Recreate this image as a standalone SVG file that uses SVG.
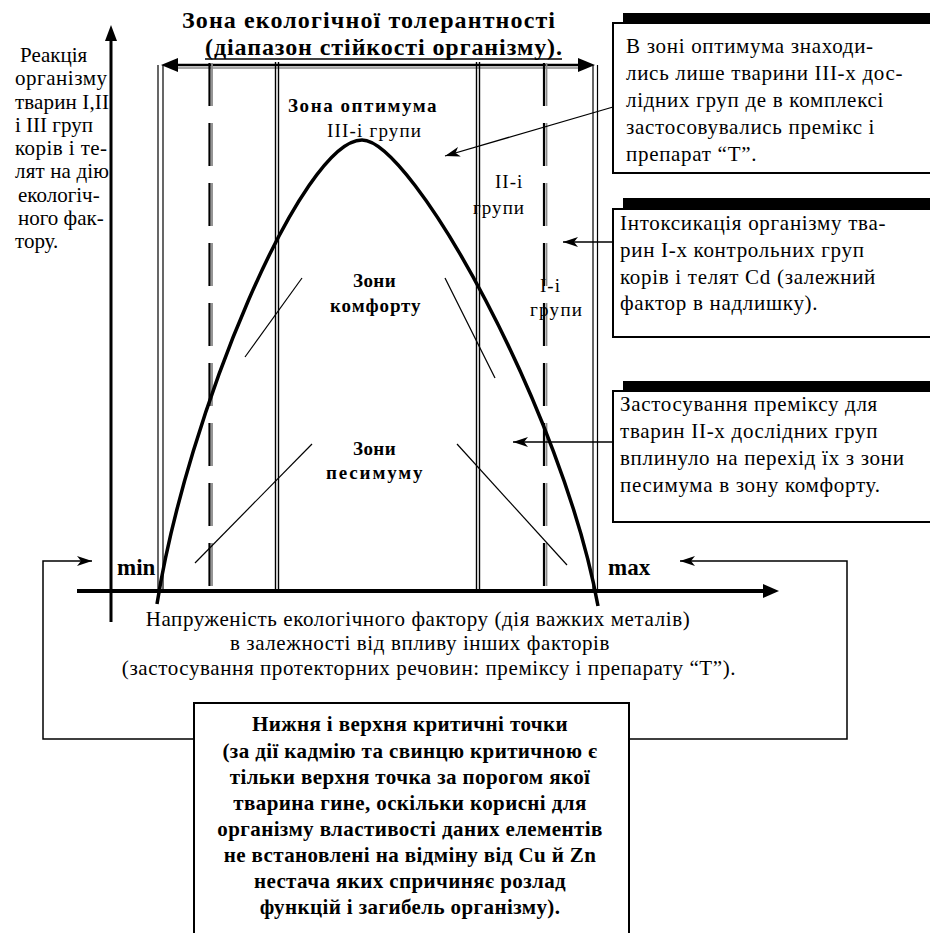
<svg xmlns="http://www.w3.org/2000/svg" width="930" height="933" viewBox="0 0 930 933">
<style>
text{font-family:"Liberation Serif","Times New Roman",serif;fill:#000}
.t{font-size:21px}
.bx{font-size:21px;letter-spacing:0.7px}
.b{font-weight:bold}
.zl{font-size:19px;font-weight:bold;letter-spacing:1.4px}
.zr{font-size:19px;letter-spacing:1px}
.ln{stroke:#000;fill:none}
.thin{stroke:#000;stroke-width:1.2;fill:none}
.grey{stroke:#8a8a8a;fill:none}
.box{fill:#fff;stroke:#000;stroke-width:2}
</style>
<defs>
<marker id="ah" markerUnits="userSpaceOnUse" markerWidth="16" markerHeight="10" refX="15" refY="5" orient="auto">
<path d="M0,0 L15,5 L0,10 L4,5 Z" fill="#000"/>
</marker>
</defs>
<rect width="930" height="933" fill="#fff"/>

<g id="title">
<text class="b" x="182" y="28" font-size="24" textLength="373" lengthAdjust="spacing">Зона екологічної толерантності</text>
<text class="b" x="205" y="55" font-size="24" textLength="357" lengthAdjust="spacing">(діапазон стійкості організму).</text>
<line class="ln" x1="205" y1="59" x2="562" y2="59" stroke-width="1.5"/>
</g>

<g id="tolerance-arrow">
<line class="ln" x1="172" y1="65" x2="584" y2="65" stroke-width="2.5"/>
<line class="grey" x1="172" y1="68" x2="584" y2="68" stroke-width="1.5"/>
<polygon points="161,65 178,58 178,72" fill="#000"/>
<polygon points="595,65 578,58 578,72" fill="#000"/>
</g>

<g id="zone-lines">
<line class="thin" x1="158" y1="65" x2="158" y2="591"/>
<line class="thin" x1="163" y1="65" x2="163" y2="591"/>
<line class="ln" x1="209.5" y1="63" x2="209.5" y2="593" stroke-width="2.2" stroke-dasharray="43 17"/>
<line class="grey" x1="212" y1="63" x2="212" y2="593" stroke-width="1.8" stroke-dasharray="43 17"/>
<line class="ln" x1="275.5" y1="62" x2="275.5" y2="593" stroke-width="1.4"/>
<line class="ln" x1="278.5" y1="62" x2="278.5" y2="593" stroke-width="1.4"/>
<line class="ln" x1="476.5" y1="62" x2="476.5" y2="593" stroke-width="1.4"/>
<line class="ln" x1="479.5" y1="62" x2="479.5" y2="593" stroke-width="1.4"/>
<line class="ln" x1="544" y1="63" x2="544" y2="593" stroke-width="2.2" stroke-dasharray="43 17"/>
<line class="grey" x1="546.5" y1="63" x2="546.5" y2="593" stroke-width="1.8" stroke-dasharray="43 17"/>
<line class="thin" x1="593" y1="65" x2="593" y2="591"/>
<line class="thin" x1="597.5" y1="65" x2="597.5" y2="591"/>
</g>

<g id="axes">
<line class="ln" x1="111" y1="622" x2="111" y2="38" stroke-width="3"/>
<polygon points="111,25 105,41 117,41" fill="#000"/>
<line class="ln" x1="77" y1="591" x2="766" y2="591" stroke-width="4"/>
<polygon points="779,591 763,584 763,598" fill="#000"/>
</g>

<g id="curve">
<path class="ln" d="M157,604 C187,414 302,140 362,140 C412,140 563,412 598,606" stroke-width="3.5"/>
</g>

<g id="zone-ticks">
<line class="thin" x1="245" y1="357" x2="302" y2="278"/>
<line class="thin" x1="445" y1="278" x2="495" y2="378"/>
<line class="thin" x1="312" y1="444" x2="195" y2="563"/>
<line class="thin" x1="457" y1="444" x2="567" y2="565"/>
</g>

<g id="zone-labels">
<text class="zl" x="288" y="112" textLength="150" lengthAdjust="spacing">Зона оптимума</text>
<text class="zr" x="327" y="137" textLength="95" lengthAdjust="spacing">ІІІ-і групи</text>
<text class="zr" x="495" y="188">ІІ-і</text>
<text class="zr" x="473" y="214" textLength="52" lengthAdjust="spacing">групи</text>
<text class="zr" x="540" y="292">І-і</text>
<text class="zr" x="530" y="316" textLength="53" lengthAdjust="spacing">групи</text>
<text class="zl" x="353" y="287" textLength="44" lengthAdjust="spacing">Зони</text>
<text class="zl" x="330" y="312" textLength="92" lengthAdjust="spacing">комфорту</text>
<text class="zl" x="353" y="455" textLength="44" lengthAdjust="spacing">Зони</text>
<text class="zl" x="326" y="479" textLength="98" lengthAdjust="spacing">песимуму</text>
<text class="b" x="117" y="575" font-size="23">min</text>
<text class="b" x="608" y="575" font-size="23">max</text>
</g>

<g id="y-label" class="t">
<text x="20" y="62">Реакція</text>
<text x="15" y="85" textLength="92" lengthAdjust="spacing">організму</text>
<text x="15" y="109" textLength="94" lengthAdjust="spacing">тварин І,ІІ</text>
<text x="15" y="132">і ІІІ груп</text>
<text x="15" y="155" textLength="92" lengthAdjust="spacing">корів і те-</text>
<text x="15" y="178" textLength="94" lengthAdjust="spacing">лят на дію</text>
<text x="18" y="202">екологіч-</text>
<text x="18" y="225">ного фак-</text>
<text x="15" y="248">тору.</text>
</g>

<g id="x-label" class="t" text-anchor="middle" letter-spacing="0.6">
<text x="418" y="626">Напруженість екологічного фактору (дія важких металів)</text>
<text x="420" y="650">в залежності від впливу інших факторів</text>
<text x="429" y="675">(застосування протекторних речовин: преміксу і препарату “Т”).</text>
</g>

<g id="box-optimum">
<rect x="623" y="13" width="320" height="11" fill="#000"/>
<rect class="box" x="613" y="23" width="330" height="150"/>
<g class="bx">
<text x="626" y="53">В зоні оптимума знаходи-</text>
<text x="626" y="80">лись лише тварини ІІІ-х дос-</text>
<text x="626" y="107">лідних груп де в комплексі</text>
<text x="626" y="134">застосовувались премікс і</text>
<text x="626" y="161">препарат “Т”.</text>
</g>
</g>

<g id="box-intox">
<rect x="623" y="198" width="320" height="11" fill="#000"/>
<rect class="box" x="613" y="209" width="330" height="128"/>
<g class="bx">
<text x="620" y="230">Інтоксикація організму тва-</text>
<text x="620" y="257">рин І-х контрольних груп</text>
<text x="620" y="284">корів і телят Cd (залежний</text>
<text x="620" y="310">фактор в надлишку).</text>
</g>
</g>

<g id="box-premix">
<rect x="623" y="381" width="320" height="11" fill="#000"/>
<rect class="box" x="613" y="391" width="330" height="131"/>
<g class="bx">
<text x="620" y="411">Застосування преміксу для</text>
<text x="620" y="438">тварин ІІ-х дослідних груп</text>
<text x="620" y="465">вплинуло на перехід їх з зони</text>
<text x="620" y="492">песимума в зону комфорту.</text>
</g>
</g>

<g id="box-critical">
<rect class="box" x="194" y="703" width="435" height="260"/>
<g class="t b" text-anchor="middle" letter-spacing="0.4">
<text x="410" y="731">Нижня і верхня критичні точки</text>
<text x="410" y="758">(за дії кадмію та свинцю критичною є</text>
<text x="410" y="784">тільки верхня точка за порогом якої</text>
<text x="410" y="810">тварина гине, оскільки корисні для</text>
<text x="410" y="836">організму властивості даних елементів</text>
<text x="410" y="862">не встановлені на відміну від Cu й Zn</text>
<text x="410" y="888">нестача яких спричиняє розлад</text>
<text x="410" y="914">функцій і загибель організму).</text>
</g>
</g>

<g id="connectors">
<line class="ln" x1="613" y1="107" x2="445" y2="156" stroke-width="1.3" marker-end="url(#ah)"/>
<line class="ln" x1="613" y1="242" x2="563" y2="242" stroke-width="1.5" marker-end="url(#ah)"/>
<line class="ln" x1="613" y1="442" x2="513" y2="442" stroke-width="1.5" marker-end="url(#ah)"/>
<polyline class="ln" points="194,739 43,739 43,561 92,561" stroke-width="1.5" marker-end="url(#ah)"/>
<polyline class="ln" points="629,739 847,739 847,561 680,561" stroke-width="1.5" marker-end="url(#ah)"/>
</g>
</svg>
